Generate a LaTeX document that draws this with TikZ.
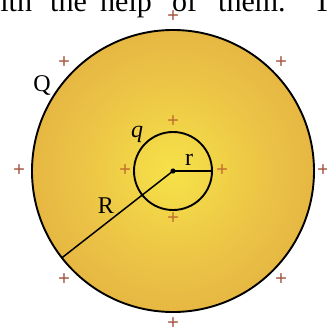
\documentclass[tikz,border=0pt]{standalone}
\usepackage{fontspec}
\setmainfont{Liberation Serif}
\usepackage{tikz}

\definecolor{ballin}{RGB}{246,226,72}
\definecolor{ballmid}{RGB}{236,196,70}
\definecolor{ballout}{RGB}{214,150,58}
\definecolor{plusout}{RGB}{166,86,66}
\definecolor{plusin}{RGB}{192,112,48}
\pgfdeclareradialshading{ball}{\pgfpoint{0bp}{0bp}}{color(0bp)=(ballin); color(16bp)=(ballmid); color(50bp)=(ballout)}

\begin{document}
\begin{tikzpicture}[
  x=1pt,y=-1pt,
  shell/.style={circle,draw=black,line width=1.9pt,inner sep=0pt,outer sep=0pt},
  radius line/.style={line width=1.5pt},
  label/.style={font=\fontsize{24}{24}\selectfont,inner sep=0pt},
  word/.style={font=\fontsize{30}{30}\selectfont,inner sep=0pt,anchor=base west},
  plus/.style={font=\fontsize{21}{21}\selectfont\bfseries,inner sep=0pt},
  pluso/.style={plus,text=plusout},
  plusi/.style={plus,text=plusin}
]
  \useasboundingbox (0,0) rectangle (326,328);
  \clip (0,0) rectangle (326,328);
  \def\bigR{141}
  \def\smallr{39}

  % cut line of text above the figure
  \node[word] (w1) at (-21.5,11.5) {with};
  \node[word] (w2) at (50,11.5) {the};
  \node[word] (w3) at (100,11.5) {help};
  \node[word] (w4) at (172,11.5) {of};
  \node[word] (w5) at (218,11.5) {them.};
  \node[word] (w6) at (313,11.5) {Th};

  \coordinate (O) at (173,171);
  \node[shell,shading=ball,minimum size=2*\bigR] (big) at (O) {};
  \node[shell,minimum size=2*\smallr] (small) at (O) {};

  \draw[radius line] (O) -- (small.east);
  \draw[radius line] (O) -- (big.218.3);
  \fill (O) circle (2.6);

  \node[label] (Q) at (42,86) {Q};
  \node[label] (q) at (137,134) {\textit{q}};
  \node[label] (r) at (189,160) {r};
  \node[label] (R) at (106,206) {R};

  \foreach \x/\y [count=\i] in {173/17,64/63,281/63,19/171,323/171,64/280,281/280,173/324}{
    \node[pluso] (po\i) at (\x,\y) {+};
  }
  \foreach \x/\y [count=\i] in {173/122,125/171,222/171,173/219}{
    \node[plusi] (pi\i) at (\x,\y) {+};
  }
\end{tikzpicture}
\end{document}
